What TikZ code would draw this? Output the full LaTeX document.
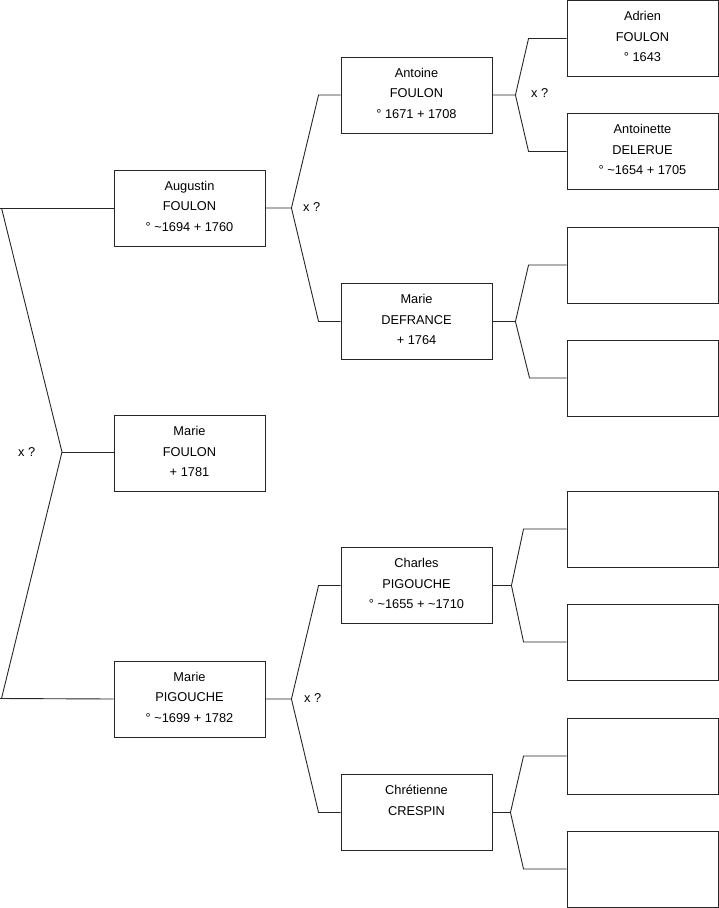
\documentclass[tikz,border=0pt]{standalone}
\usepackage{fontspec}
\setmainfont{Liberation Sans}
\newcommand{\fst}{\rule{0pt}{15.5pt}}
\begin{document}
\begin{tikzpicture}[x=1pt,y=-1pt,
  box/.style={draw=black!85, line width=0.9pt, minimum width=151pt, minimum height=76pt, inner sep=0pt},
  txt/.style={anchor=north, inner sep=0pt, align=center, font=\fontsize{12.8}{20.5}\selectfont},
  xq/.style={anchor=base west, inner sep=0pt, font=\fontsize{12.8}{15}\selectfont},
  ln/.style={draw=black!85, line width=0.9pt}]
\useasboundingbox (0,0) rectangle (719,908);
% column 1
\node[box] (augustin) at (189.5,208) {};
\node[box] (mfoulon) at (189.5,453.5) {};
\node[box] (mpigouche) at (189.5,699) {};
% column 2
\node[box] (antoine) at (416.5,95) {};
\node[box] (defrance) at (416.5,321.5) {};
\node[box] (charles) at (416.5,585.5) {};
\node[box] (crespin) at (416.5,812.5) {};
% column 3
\node[box] (adrien) at (642.5,38.5) {};
\node[box] (delerue) at (642.5,151.5) {};
\node[box] (e3) at (642.5,265) {};
\node[box] (e4) at (642.5,378) {};
\node[box] (e5) at (642.5,529) {};
\node[box] (e6) at (642.5,642) {};
\node[box] (e7) at (642.5,756) {};
\node[box] (e8) at (642.5,869) {};
% texts
\node[txt] at ([yshift=-5pt]augustin.north) {\fst Augustin\\FOULON\\° \textasciitilde1694 + 1760};
\node[txt] at ([yshift=-5pt]mfoulon.north) {\fst Marie\\FOULON\\+ 1781};
\node[txt] at ([yshift=-5pt]mpigouche.north) {\fst Marie\\PIGOUCHE\\° \textasciitilde1699 + 1782};
\node[txt] at ([yshift=-5pt]antoine.north) {\fst Antoine\\FOULON\\° 1671 + 1708};
\node[txt] at ([yshift=-5pt]defrance.north) {\fst Marie\\DEFRANCE\\+ 1764};
\node[txt] at ([yshift=-5pt]charles.north) {\fst Charles\\PIGOUCHE\\° \textasciitilde1655 + \textasciitilde1710};
\node[txt] at ([yshift=-5pt]crespin.north) {\fst Chrétienne\\CRESPIN};
\node[txt] at ([yshift=-5pt]adrien.north) {\fst Adrien\\FOULON\\° 1643};
\node[txt] at ([yshift=-5pt]delerue.north) {\fst Antoinette\\DELERUE\\° \textasciitilde1654 + 1705};
% root connector
\coordinate (jroot) at (62,452);
\coordinate (la) at (0,208);
\coordinate (lb) at (0,698.5);
\draw[ln] (augustin.west) -- (la);
\draw[ln] (mpigouche.west) -- (lb);
\draw[ln] ([xshift=1.5pt]la) -- (jroot) -- ([xshift=1.5pt]lb);
\draw[ln] (jroot) -- (mfoulon.west |- jroot);
\node[xq] (x0) at (18,456) {x ?};
% Augustin
\draw[ln] (augustin.east) -- ++(26,0) coordinate (j1)
  -- ([xshift=-22pt]antoine.west) -- (antoine.west);
\draw[ln] (j1) -- ([xshift=-22pt]defrance.west) -- (defrance.west);
\node[xq] (x1) at (303,211) {x ?};
% Marie PIGOUCHE
\draw[ln] (mpigouche.east) -- ++(26,0) coordinate (j2)
  -- ([xshift=-22pt]charles.west) -- (charles.west);
\draw[ln] (j2) -- ([xshift=-22pt]crespin.west) -- (crespin.west);
\node[xq] (x2) at (304,702) {x ?};
% Antoine
\draw[ln] (antoine.east) -- ++(23,0) coordinate (j3)
  -- ([xshift=-38pt]adrien.west) -- (adrien.west);
\draw[ln] (j3) -- ([xshift=-38pt]delerue.west) -- (delerue.west);
\node[xq] (x3) at (531,97) {x ?};
% DEFRANCE
\draw[ln] (defrance.east) -- ++(23,0) coordinate (j4)
  -- ([xshift=-38pt]e3.west) -- (e3.west);
\draw[ln] (j4) -- ([xshift=-37pt]e4.west) -- (e4.west);
% Charles
\draw[ln] (charles.east) -- ++(19,0) coordinate (j5)
  -- ([xshift=-43pt]e5.west) -- (e5.west);
\draw[ln] (j5) -- ([xshift=-43pt]e6.west) -- (e6.west);
% Crespin
\draw[ln] (crespin.east) -- ++(18,0) coordinate (j6)
  -- ([xshift=-43pt]e7.west) -- (e7.west);
\draw[ln] (j6) -- ([xshift=-43pt]e8.west) -- (e8.west);
\end{tikzpicture}
\end{document}
